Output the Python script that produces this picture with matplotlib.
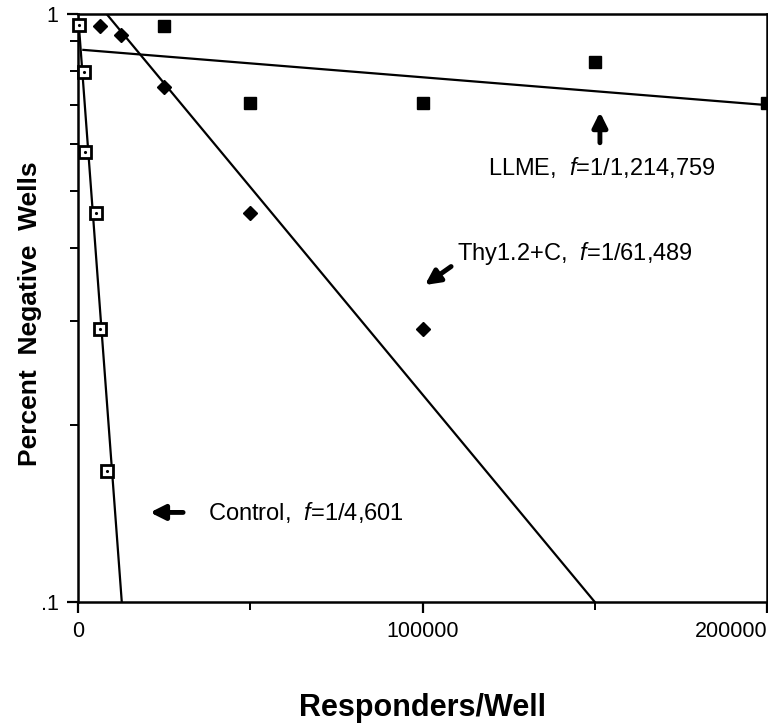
#!/usr/bin/env python3
# -*- coding: utf-8 -*-
"""
Limiting dilution plot: percent negative wells vs responders/well
for Control, Thy1.2+C and LLME treated cells (semi-log).
"""

import numpy as np
import matplotlib
matplotlib.use('Agg')
import matplotlib.pyplot as plt
from matplotlib.ticker import FixedLocator, NullFormatter

plt.rcParams['font.family'] = ['Liberation Sans', 'DejaVu Sans']
plt.rcParams['mathtext.fontset'] = 'custom'
plt.rcParams['mathtext.rm'] = 'Liberation Sans'
plt.rcParams['mathtext.it'] = 'Liberation Sans:italic'

# Datos
control_x = [400, 1750, 2050, 5150, 6400, 8350]
control_y = [0.958, 0.798, 0.583, 0.458, 0.291, 0.167]

thy_x = [6250, 12500, 25000, 50000, 100000]
thy_y = [0.955, 0.921, 0.752, 0.458, 0.291]

llme_x = [25000, 50000, 100000, 150000, 200000]
llme_y = [0.954, 0.706, 0.706, 0.830, 0.706]

# Rectas ajustadas (extremos)
control_fit_x = [0, 12700]
control_fit_y = [1.0, 0.1]
thy_fit_x = [8300, 150000]
thy_fit_y = [1.0, 0.1]
llme_fit_x = [1540, 200000]
llme_fit_y = [0.869, 0.700]

x_ticks = [0, 100000, 200000]
x_minor = [50000, 150000]
y_ticks = [0.1, 1]
y_ticklabels = ['.1', '1']
y_minor = [0.2, 0.3, 0.4, 0.5, 0.6, 0.7, 0.8, 0.9]

labels = {
    'control': 'Control,  $f$=1/4,601',
    'thy': 'Thy1.2+C,  $f$=1/61,489',
    'llme': 'LLME,  $f$=1/1,214,759',
}


def main():
    fig = plt.figure(figsize=(7.68, 7.23), dpi=100)
    ax = fig.add_axes([0.1016, 0.1674, 0.8971, 0.8132])

    lw = 1.6
    # Rectas
    ax.plot(control_fit_x, control_fit_y, color='black', lw=lw)
    ax.plot(thy_fit_x, thy_fit_y, color='black', lw=lw)
    ax.plot(llme_fit_x, llme_fit_y, color='black', lw=lw)

    # Puntos
    ax.plot(control_x, control_y, 's', ms=8, mfc='white', mec='black', mew=2,
            clip_on=False, zorder=3)
    ax.plot(control_x, control_y, '.', ms=2.5, color='black', zorder=4, clip_on=False)
    ax.plot(thy_x, thy_y, 'D', ms=7.5, color='black', zorder=3, clip_on=False)
    ax.plot(llme_x, llme_y, 's', ms=8.5, color='black', zorder=3, clip_on=False)

    ax.set_yscale('log')
    ax.set_xlim(0, 200000)
    ax.set_ylim(0.1, 1)

    ax.xaxis.set_major_locator(FixedLocator(x_ticks))
    ax.xaxis.set_minor_locator(FixedLocator(x_minor))
    ax.set_xticklabels([str(t) for t in x_ticks])
    ax.get_xticklabels()[-1].set_horizontalalignment('right')
    ax.yaxis.set_major_locator(FixedLocator(y_ticks))
    ax.yaxis.set_minor_locator(FixedLocator(y_minor))
    ax.yaxis.set_minor_formatter(NullFormatter())
    ax.set_yticklabels(y_ticklabels)

    ax.tick_params(which='major', direction='out', length=8, width=1.6,
                   labelsize=15.5, pad=6)
    ax.tick_params(which='minor', direction='out', length=6, width=1.4)
    ax.tick_params(top=False, right=False, which='both')
    for s in ax.spines.values():
        s.set_linewidth(1.8)

    ax.set_xlabel('Responders/Well', fontsize=22, fontweight='bold')
    ax.xaxis.set_label_coords(0.5, -0.155)
    ax.set_ylabel('Percent  Negative  Wells', fontsize=19, fontweight='bold')
    ax.yaxis.set_label_coords(-0.052, 0.49)

    # Flechas y etiquetas
    arrow = dict(arrowstyle='-|>', color='black', lw=3.5, mutation_scale=22,
                 shrinkA=0, shrinkB=0)
    ax.annotate('', xy=(20900, 0.142), xytext=(30500, 0.142), arrowprops=arrow)
    ax.text(37700, 0.142, labels['control'], fontsize=17, va='center', ha='left')

    ax.annotate('', xy=(100700, 0.346), xytext=(108300, 0.372), arrowprops=arrow)
    ax.text(110000, 0.392, labels['thy'], fontsize=17, va='center', ha='left')

    ax.annotate('', xy=(151500, 0.681), xytext=(151500, 0.604), arrowprops=arrow)
    ax.text(152000, 0.548, labels['llme'], fontsize=17, va='center', ha='center')

    fig.savefig('out.png', dpi=100, facecolor='white')
    plt.close(fig)


if __name__ == '__main__':
    main()
